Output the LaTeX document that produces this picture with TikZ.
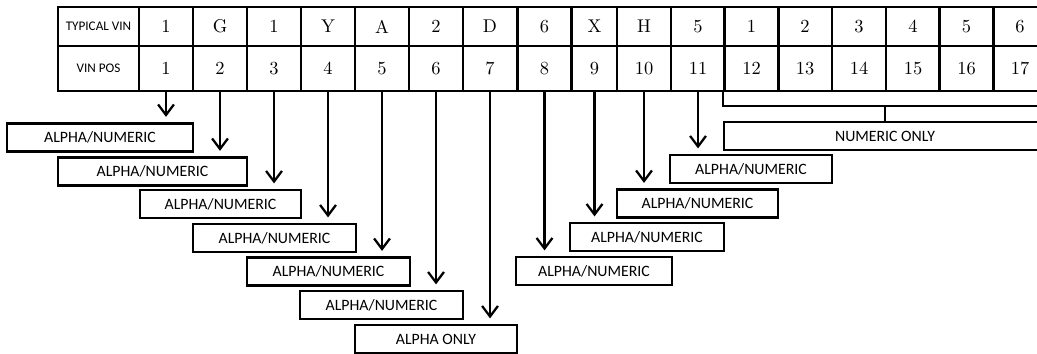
\documentclass[tikz,border=0pt]{standalone}
\usepackage{fontspec}
\newfontfamily\boxfont{Carlito}
\usetikzlibrary{arrows.meta}

\begin{document}
\begin{tikzpicture}[x=0.02cm,y=-0.02cm,->,>={Straight Barb[length=6pt,width=9pt]},shorten >=3pt,
  line width=1.3pt,
  cell/.style={draw,line width=1.6pt,minimum width=1.08cm,inner sep=0pt,font=\fontsize{10.5}{12}\selectfont},
  top cell/.style={cell,minimum height=0.78cm},
  pos cell/.style={cell,minimum height=0.9cm},
  head cell/.style={minimum width=1.62cm,font=\boxfont\fontsize{7.5}{9}\selectfont},
  type box/.style={draw,line width=1.5pt,minimum height=0.56cm,inner sep=0pt,font=\boxfont\fontsize{9}{11}\selectfont},
  bracket/.style={-,shorten >=0pt,line width=1.4pt}]

  \useasboundingbox (0,0) rectangle (1037,354);
  \clip (0,0) rectangle (1037,354);

  % typical vin row
  \node[top cell,head cell] (t0) at (98.5,26.5) {TYPICAL VIN};
  \node[top cell] (t1) at (166,26.5) {1};
  \node[top cell] (t2) at (220,26.5) {G};
  \node[top cell] (t3) at (274,26.5) {1};
  \node[top cell] (t4) at (328,26.5) {Y};
  \node[top cell] (t5) at (382,26.5) {A};
  \node[top cell] (t6) at (436,26.5) {2};
  \node[top cell] (t7) at (490,26.5) {D};
  \node[top cell] (t8) at (544.5,26.5) {6};
  \node[top cell,minimum width=0.9cm] (t9) at (594.5,26.5) {X};
  \node[top cell] (t10) at (644,26.5) {H};
  \node[top cell] (t11) at (698,26.5) {5};
  \node[top cell] (t12) at (751.5,26.5) {1};
  \node[top cell] (t13) at (805,26.5) {2};
  \node[top cell] (t14) at (859,26.5) {3};
  \node[top cell] (t15) at (913,26.5) {4};
  \node[top cell] (t16) at (966.5,26.5) {5};
  \node[top cell] (t17) at (1020,26.5) {6};

  % vin pos row
  \node[pos cell,head cell] (p0) at (98.5,68.5) {VIN POS};
  \node[pos cell] (p1) at (166,68.5) {1};
  \node[pos cell] (p2) at (220,68.5) {2};
  \node[pos cell] (p3) at (274,68.5) {3};
  \node[pos cell] (p4) at (328,68.5) {4};
  \node[pos cell] (p5) at (382,68.5) {5};
  \node[pos cell] (p6) at (436,68.5) {6};
  \node[pos cell] (p7) at (490,68.5) {7};
  \node[pos cell] (p8) at (544.5,68.5) {8};
  \node[pos cell,minimum width=0.9cm] (p9) at (594.5,68.5) {9};
  \node[pos cell] (p10) at (644,68.5) {10};
  \node[pos cell] (p11) at (698,68.5) {11};
  \node[pos cell] (p12) at (751.5,68.5) {12};
  \node[pos cell] (p13) at (805,68.5) {13};
  \node[pos cell] (p14) at (859,68.5) {14};
  \node[pos cell] (p15) at (913,68.5) {15};
  \node[pos cell] (p16) at (966.5,68.5) {16};
  \node[pos cell] (p17) at (1020,68.5) {17};

  % character types
  \node[type box,minimum width=3.72cm] (b1) at (100,137.5) {ALPHA/NUMERIC};
  \node[type box,minimum width=3.78cm] (b2) at (152.5,171.5) {ALPHA/NUMERIC};
  \node[type box,minimum width=3.22cm] (b3) at (220.5,204) {ALPHA/NUMERIC};
  \node[type box,minimum width=3.26cm] (b4) at (274.5,238) {ALPHA/NUMERIC};
  \node[type box,minimum width=3.26cm] (b5) at (328.5,271.5) {ALPHA/NUMERIC};
  \node[type box,minimum width=3.26cm] (b6) at (381.5,305) {ALPHA/NUMERIC};
  \node[type box,minimum width=3.24cm] (b7) at (436,339) {ALPHA ONLY};
  \node[type box,minimum width=3.12cm] (b8) at (594,271) {ALPHA/NUMERIC};
  \node[type box,minimum width=3.08cm] (b9) at (647,237) {ALPHA/NUMERIC};
  \node[type box,minimum width=3.22cm] (b10) at (697.5,203.5) {ALPHA/NUMERIC};
  \node[type box,minimum width=3.24cm] (b11) at (751,169) {ALPHA/NUMERIC};
  \node[type box,minimum width=6.44cm] (b12) at (885,136) {NUMERIC ONLY};

  \coordinate (bend) at (1047,106);

  \path
    (p1.south) edge (p1.south |- b1.north)
    (p2.south) edge (p2.south |- b2.north)
    (p3.south) edge (p3.south |- b3.north)
    (p4.south) edge (p4.south |- b4.north)
    (p5.south) edge (p5.south |- b5.north)
    (p6.south) edge (p6.south |- b6.north)
    (p7.south) edge (p7.south |- b7.north)
    (p8.south) edge (p8.south |- b8.north)
    (p9.south) edge (p9.south |- b9.north)
    (p10.south) edge (p10.south |- b10.north)
    (p11.south) edge (p11.south |- b11.north)
    ;

  \draw[bracket] (p12.south west) |- (bend);
  \draw[bracket] (bend -| b12.north) -- (b12.north);
\end{tikzpicture}
\end{document}
